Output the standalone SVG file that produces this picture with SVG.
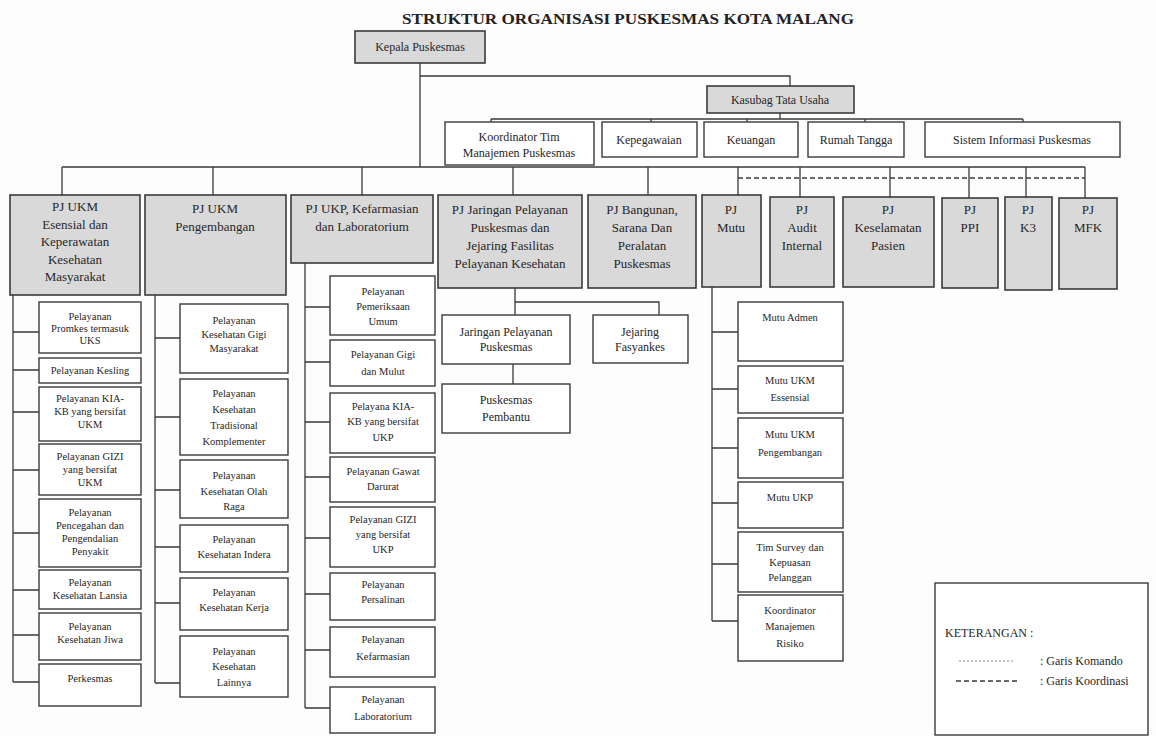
<svg xmlns="http://www.w3.org/2000/svg" width="1156" height="736" viewBox="0 0 1156 736">
<style>
.bg{fill:#fdfdfd}
.box{fill:#fff;stroke:#3a3a3a;stroke-width:1.4}
.gbox{fill:#d9d9d9;stroke:#3a3a3a;stroke-width:1.6}
.t{font-family:"Liberation Serif",serif;text-anchor:middle;fill:#262626}
.s{font-size:10.5px}
.m{font-size:12px}
.l{font-size:13px}
.ln{stroke:#3a3a3a;stroke-width:1.3;fill:none}
.dash{stroke:#3a3a3a;stroke-width:1.6;fill:none;stroke-dasharray:5 3}
.dot{stroke:#888;stroke-width:1;fill:none;stroke-dasharray:2 2}
.title{font-family:"Liberation Serif",serif;font-weight:bold;font-size:15px;fill:#222;text-anchor:middle}
</style>
<rect class="bg" x="0" y="0" width="1156" height="736"/>
<text class="title" x="628" y="24" textLength="452" lengthAdjust="spacingAndGlyphs">STRUKTUR ORGANISASI PUSKESMAS KOTA MALANG</text>

<g id="connectors">
<path class="ln" d="M420 63V167M420 76H790V87"/>
<path class="ln" d="M780 113V119M491 119H1023M491 119V122M651 119V122M747 119V122M865 119V122M1023 119V122"/>
<path class="ln" d="M62 167H1085M62 167V195M213 167V195M362 167V195M513 167V195M648 167V195M738 167V195M800 167V197M890 167V197M969 167V198M1026 167V197M1085 167V198"/>
<path class="dash" d="M738 178H1085"/>
<path class="ln" d="M13 295V682M13 332H39M13 370H39M13 412H39M13 470H39M13 533H39M13 590H39M13 635H39M13 682H39"/>
<path class="ln" d="M155 295V683M155 338H180M155 417H180M155 490H180M155 547H180M155 603H180M155 683H180"/>
<path class="ln" d="M305 263V708M305 307H330M305 362H330M305 422H330M305 477H330M305 538H330M305 594H330M305 650H330M305 708H330"/>
<path class="ln" d="M515 288V315M515 302H659V315M513 364V384"/>
<path class="ln" d="M712 287V621M712 332H738M712 389H738M712 448H738M712 503H738M712 564H738M712 621H738"/>
</g>

<g id="kepala"><rect class="gbox" x="355" y="31" width="130" height="32"/><text class="t m" x="420" y="51">Kepala Puskesmas</text></g>
<g id="kasubag"><rect class="gbox" x="707" y="86" width="147" height="27"/><text class="t m" x="780" y="104">Kasubag Tata Usaha</text></g>

<g id="koordinator-tim"><rect class="box" x="445" y="122" width="149" height="43"/><text class="t m" x="519" y="141">Koordinator Tim</text><text class="t m" x="519" y="157">Manajemen Puskesmas</text></g>
<g id="kepegawaian"><rect class="box" x="602" y="122" width="95" height="35"/><text class="t m" x="649" y="144">Kepegawaian</text></g>
<g id="keuangan"><rect class="box" x="704" y="122" width="94" height="35"/><text class="t m" x="751" y="144">Keuangan</text></g>
<g id="rumah-tangga"><rect class="box" x="808" y="122" width="96" height="35"/><text class="t m" x="856" y="144">Rumah Tangga</text></g>
<g id="sistem-informasi"><rect class="box" x="925" y="122" width="195" height="35"/><text class="t m" x="1022" y="144">Sistem Informasi Puskesmas</text></g>

<g id="pj-ukm-esensial"><rect class="gbox" x="10" y="195" width="130" height="100"/>
<text class="t l" x="75" y="211">PJ UKM</text><text class="t l" x="75" y="228.5">Esensial dan</text><text class="t l" x="75" y="246">Keperawatan</text><text class="t l" x="75" y="263.5">Kesehatan</text><text class="t l" x="75" y="281">Masyarakat</text></g>
<g id="pj-ukm-pengembangan"><rect class="gbox" x="145" y="195" width="141" height="100"/>
<text class="t l" x="215" y="213">PJ UKM</text><text class="t l" x="215" y="231">Pengembangan</text></g>
<g id="pj-ukp"><rect class="gbox" x="291" y="195" width="142" height="68"/>
<text class="t l" x="362" y="213">PJ UKP, Kefarmasian</text><text class="t l" x="362" y="231">dan Laboratorium</text></g>
<g id="pj-jaringan"><rect class="gbox" x="438" y="195" width="144" height="93"/>
<text class="t l" x="510" y="214">PJ Jaringan Pelayanan</text><text class="t l" x="510" y="232">Puskesmas dan</text><text class="t l" x="510" y="250">Jejaring Fasilitas</text><text class="t l" x="510" y="268">Pelayanan Kesehatan</text></g>
<g id="pj-bangunan"><rect class="gbox" x="588" y="195" width="108" height="93"/>
<text class="t l" x="642" y="214">PJ Bangunan,</text><text class="t l" x="642" y="232">Sarana Dan</text><text class="t l" x="642" y="250">Peralatan</text><text class="t l" x="642" y="268">Puskesmas</text></g>
<g id="pj-mutu"><rect class="gbox" x="702" y="195" width="59" height="92"/>
<text class="t l" x="731" y="214">PJ</text><text class="t l" x="731" y="232">Mutu</text></g>
<g id="pj-audit"><rect class="gbox" x="770" y="197" width="64" height="90"/>
<text class="t l" x="802" y="214">PJ</text><text class="t l" x="802" y="232">Audit</text><text class="t l" x="802" y="250">Internal</text></g>
<g id="pj-keselamatan"><rect class="gbox" x="843" y="197" width="91" height="90"/>
<text class="t l" x="888" y="214">PJ</text><text class="t l" x="888" y="232">Keselamatan</text><text class="t l" x="888" y="250">Pasien</text></g>
<g id="pj-ppi"><rect class="gbox" x="942" y="198" width="56" height="90"/>
<text class="t l" x="970" y="214">PJ</text><text class="t l" x="970" y="232">PPI</text></g>
<g id="pj-k3"><rect class="gbox" x="1005" y="197" width="47" height="93"/>
<text class="t l" x="1028" y="214">PJ</text><text class="t l" x="1028" y="232">K3</text></g>
<g id="pj-mfk"><rect class="gbox" x="1059" y="198" width="58" height="91"/>
<text class="t l" x="1088" y="214">PJ</text><text class="t l" x="1088" y="232">MFK</text></g>

<g id="promkes"><rect class="box" x="39" y="302" width="102" height="51"/><text class="t s" x="90" y="320">Pelayanan</text><text class="t s" x="90" y="332">Promkes termasuk</text><text class="t s" x="90" y="344">UKS</text></g>
<g id="kesling"><rect class="box" x="39" y="358" width="102" height="25"/><text class="t s" x="90" y="374">Pelayanan Kesling</text></g>
<g id="kia-ukm"><rect class="box" x="39" y="387" width="102" height="54"/><text class="t s" x="90" y="402">Pelayanan KIA-</text><text class="t s" x="90" y="415">KB yang bersifat</text><text class="t s" x="90" y="428">UKM</text></g>
<g id="gizi-ukm"><rect class="box" x="39" y="444" width="102" height="51"/><text class="t s" x="90" y="460">Pelayanan GIZI</text><text class="t s" x="90" y="473">yang bersifat</text><text class="t s" x="90" y="486">UKM</text></g>
<g id="pencegahan"><rect class="box" x="39" y="499" width="102" height="68"/><text class="t s" x="90" y="516">Pelayanan</text><text class="t s" x="90" y="529">Pencegahan dan</text><text class="t s" x="90" y="542">Pengendalian</text><text class="t s" x="90" y="555">Penyakit</text></g>
<g id="lansia"><rect class="box" x="39" y="570" width="102" height="39"/><text class="t s" x="90" y="586">Pelayanan</text><text class="t s" x="90" y="599">Kesehatan Lansia</text></g>
<g id="jiwa"><rect class="box" x="39" y="613" width="102" height="47"/><text class="t s" x="90" y="630">Pelayanan</text><text class="t s" x="90" y="643">Kesehatan Jiwa</text></g>
<g id="perkesmas"><rect class="box" x="39" y="664" width="102" height="42"/><text class="t s" x="90" y="682">Perkesmas</text></g>

<g id="gigi-masyarakat"><rect class="box" x="180" y="304" width="108" height="69"/><text class="t s" x="234" y="324">Pelayanan</text><text class="t s" x="234" y="338">Kesehatan Gigi</text><text class="t s" x="234" y="352">Masyarakat</text></g>
<g id="tradisional"><rect class="box" x="180" y="379" width="108" height="76"/><text class="t s" x="234" y="397">Pelayanan</text><text class="t s" x="234" y="413">Kesehatan</text><text class="t s" x="234" y="429">Tradisional</text><text class="t s" x="234" y="445">Komplementer</text></g>
<g id="olahraga"><rect class="box" x="180" y="460" width="108" height="58"/><text class="t s" x="234" y="479">Pelayanan</text><text class="t s" x="234" y="495">Kesehatan Olah</text><text class="t s" x="234" y="510">Raga</text></g>
<g id="indera"><rect class="box" x="180" y="525" width="108" height="47"/><text class="t s" x="234" y="543">Pelayanan</text><text class="t s" x="234" y="558">Kesehatan Indera</text></g>
<g id="kerja"><rect class="box" x="180" y="578" width="108" height="52"/><text class="t s" x="234" y="596">Pelayanan</text><text class="t s" x="234" y="611">Kesehatan Kerja</text></g>
<g id="lainnya"><rect class="box" x="180" y="636" width="108" height="61"/><text class="t s" x="234" y="655">Pelayanan</text><text class="t s" x="234" y="670">Kesehatan</text><text class="t s" x="234" y="686">Lainnya</text></g>

<g id="pemeriksaan"><rect class="box" x="330" y="276" width="105" height="59"/><text class="t s" x="383" y="295">Pelayanan</text><text class="t s" x="383" y="310">Pemeriksaan</text><text class="t s" x="383" y="325">Umum</text></g>
<g id="gigi-mulut"><rect class="box" x="330" y="340" width="105" height="46"/><text class="t s" x="383" y="358">Pelayanan Gigi</text><text class="t s" x="383" y="375">dan Mulut</text></g>
<g id="kia-ukp"><rect class="box" x="330" y="393" width="105" height="60"/><text class="t s" x="383" y="410">Pelayana KIA-</text><text class="t s" x="383" y="425">KB yang bersifat</text><text class="t s" x="383" y="441">UKP</text></g>
<g id="gawat-darurat"><rect class="box" x="330" y="457" width="105" height="45"/><text class="t s" x="383" y="475">Pelayanan Gawat</text><text class="t s" x="383" y="490">Darurat</text></g>
<g id="gizi-ukp"><rect class="box" x="330" y="507" width="105" height="60"/><text class="t s" x="383" y="523">Pelayanan GIZI</text><text class="t s" x="383" y="538">yang bersifat</text><text class="t s" x="383" y="553">UKP</text></g>
<g id="persalinan"><rect class="box" x="330" y="573" width="105" height="47"/><text class="t s" x="383" y="588">Pelayanan</text><text class="t s" x="383" y="603">Persalinan</text></g>
<g id="kefarmasian"><rect class="box" x="330" y="627" width="105" height="50"/><text class="t s" x="383" y="643">Pelayanan</text><text class="t s" x="383" y="660">Kefarmasian</text></g>
<g id="laboratorium"><rect class="box" x="330" y="687" width="105" height="46"/><text class="t s" x="383" y="703">Pelayanan</text><text class="t s" x="383" y="720">Laboratorium</text></g>

<g id="jaringan-pelayanan"><rect class="box" x="442" y="315" width="128" height="49"/><text class="t m" x="506" y="336">Jaringan Pelayanan</text><text class="t m" x="506" y="351">Puskesmas</text></g>
<g id="jejaring-fasyankes"><rect class="box" x="593" y="315" width="95" height="48"/><text class="t m" x="640" y="336">Jejaring</text><text class="t m" x="640" y="351">Fasyankes</text></g>
<g id="puskesmas-pembantu"><rect class="box" x="442" y="384" width="128" height="49"/><text class="t m" x="506" y="404">Puskesmas</text><text class="t m" x="506" y="421">Pembantu</text></g>

<g id="mutu-admen"><rect class="box" x="738" y="302" width="105" height="59"/><text class="t s" x="790" y="321">Mutu Admen</text></g>
<g id="mutu-ukm-essensial"><rect class="box" x="738" y="366" width="105" height="47"/><text class="t s" x="790" y="384">Mutu UKM</text><text class="t s" x="790" y="401">Essensial</text></g>
<g id="mutu-ukm-pengembangan"><rect class="box" x="738" y="418" width="105" height="60"/><text class="t s" x="790" y="438">Mutu UKM</text><text class="t s" x="790" y="456">Pengembangan</text></g>
<g id="mutu-ukp"><rect class="box" x="738" y="482" width="105" height="46"/><text class="t s" x="790" y="501">Mutu UKP</text></g>
<g id="tim-survey"><rect class="box" x="738" y="532" width="105" height="60"/><text class="t s" x="790" y="551">Tim Survey dan</text><text class="t s" x="790" y="566">Kepuasan</text><text class="t s" x="790" y="581">Pelanggan</text></g>
<g id="koordinator-risiko"><rect class="box" x="738" y="595" width="105" height="66"/><text class="t s" x="790" y="614">Koordinator</text><text class="t s" x="790" y="630">Manajemen</text><text class="t s" x="790" y="647">Risiko</text></g>

<g id="legend">
<rect class="box" x="935" y="583" width="213" height="152"/>
<text class="t m" x="945" y="637" style="text-anchor:start">KETERANGAN :</text>
<path class="dot" d="M959 661H1013"/>
<text class="t m" x="1040" y="665" style="text-anchor:start">: Garis Komando</text>
<path class="dash" d="M956 681H1017"/>
<text class="t m" x="1040" y="685" style="text-anchor:start">: Garis Koordinasi</text>
</g>
</svg>
